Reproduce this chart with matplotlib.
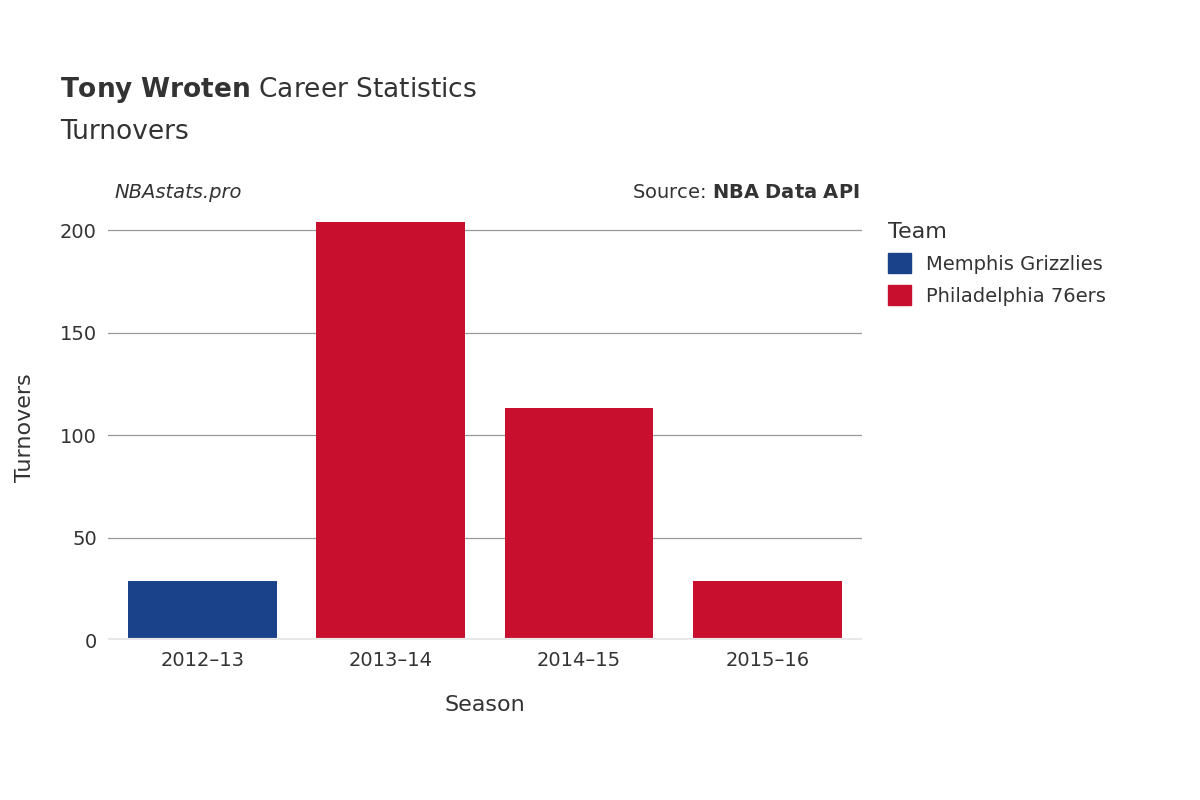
import matplotlib
matplotlib.use("Agg")
import matplotlib.pyplot as plt
from matplotlib.patches import Patch

seasons = ["2012–13", "2013–14", "2014–15", "2015–16"]
teams = ["Memphis Grizzlies", "Philadelphia 76ers", "Philadelphia 76ers", "Philadelphia 76ers"]
turnovers = [29, 204, 113, 29]
team_colors = {"Memphis Grizzlies": "#1a428a", "Philadelphia 76ers": "#c8102e"}
yticks = [0, 50, 100, 150, 200]

fig = plt.figure(figsize=(12, 8), dpi=100)
ax = fig.add_axes([0.09, 0.2, 0.628, 0.531])
x = range(len(seasons))
ax.bar(x, turnovers, width=0.79, color=[team_colors[t] for t in teams], zorder=3)
ax.set_xlim(-0.5, 3.5)
ax.set_ylim(0, 207.3)
ax.set_yticks(yticks)
ax.set_xticks(list(x))
ax.set_xticklabels(seasons)
ax.grid(axis="y", color="#999999", linewidth=0.9, zorder=0)
for s in ax.spines.values():
    s.set_visible(False)
ax.axhline(0, color="#e8e8e8", linewidth=3, zorder=4)
ax.tick_params(length=0, labelsize=14, colors="#333333", pad=8)
ax.set_xlabel("Season", fontsize=16, color="#333333", labelpad=18)
ax.set_ylabel("Turnovers", fontsize=16, color="#333333", labelpad=18)

fig.text(0.05, 0.887, r"$\bf{Tony\ Wroten}$ Career Statistics", fontsize=19, color="#333333", va="center")
fig.text(0.05, 0.835, "Turnovers", fontsize=19, color="#333333", va="center")
fig.text(0.095, 0.76, "NBAstats.pro", fontsize=14, style="italic", color="#333333", va="center")
fig.text(0.716, 0.76, r"Source: $\bf{NBA\ Data\ API}$", fontsize=14, color="#333333", va="center", ha="right")

handles = [Patch(color=team_colors["Memphis Grizzlies"], label="Memphis Grizzlies"),
           Patch(color=team_colors["Philadelphia 76ers"], label="Philadelphia 76ers")]
leg = fig.legend(handles=handles, title="Team", loc="upper left", bbox_to_anchor=(0.725, 0.745),
                 frameon=False, fontsize=14, title_fontsize=16, handlelength=1.2, handleheight=1.2,
                 labelspacing=0.6)
leg._legend_box.align = "left"
for t in leg.get_texts():
    t.set_color("#333333")
leg.get_title().set_color("#333333")

fig.savefig("out.png")
